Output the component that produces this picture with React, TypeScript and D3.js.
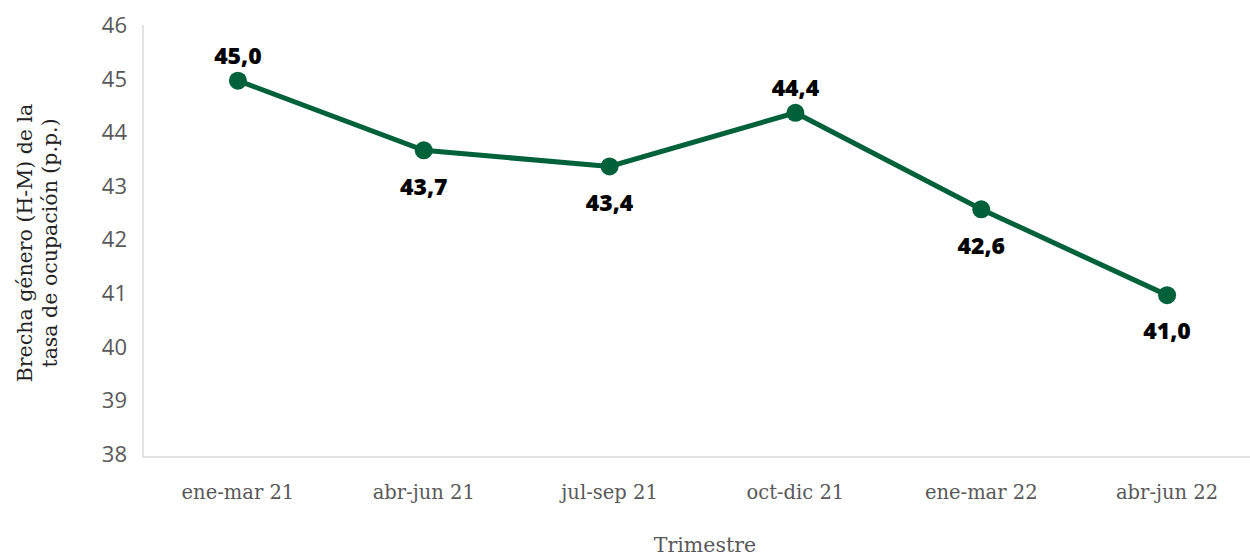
import { useEffect, useRef } from 'react';
import * as d3 from 'd3';

const categories = ['ene-mar 21', 'abr-jun 21', 'jul-sep 21', 'oct-dic 21', 'ene-mar 22', 'abr-jun 22'];
const values = [45.0, 43.7, 43.4, 44.4, 42.6, 41.0];
const labelAbove = [true, false, false, true, false, false];
const yTicks = [38, 39, 40, 41, 42, 43, 44, 45, 46];

const WIDTH = 1250;
const HEIGHT = 555;
const GREEN = '#00613a';

export default function App() {
  const svgRef = useRef<SVGSVGElement>(null);

  useEffect(() => {
    if (!svgRef.current) return;
    const svg = d3.select(svgRef.current);
    svg.selectAll('*').remove();

    // Scales
    const x = d3.scaleBand<string>()
      .domain(categories)
      .range([145, 1260]);
    const y = d3.scaleLinear()
      .domain([38, 46])
      .range([456, 27]);
    const cx = (c: string) => (x(c) as number) + x.bandwidth() / 2;

    // Axis lines
    svg.append('line')
      .attr('x1', 143).attr('x2', 143)
      .attr('y1', 25).attr('y2', 457)
      .attr('stroke', '#d9d9d9').attr('stroke-width', 1.5);
    svg.append('line')
      .attr('x1', 143).attr('x2', WIDTH)
      .attr('y1', 457).attr('y2', 457)
      .attr('stroke', '#d9d9d9').attr('stroke-width', 1.5);

    // Y tick labels
    svg.append('g')
      .selectAll('text')
      .data(yTicks)
      .join('text')
      .attr('x', 127)
      .attr('y', d => y(d))
      .attr('text-anchor', 'end')
      .attr('dominant-baseline', 'middle')
      .attr('font-family', '"Open Sans", sans-serif')
      .attr('font-size', 22)
      .attr('fill', '#595959')
      .text(d => d);

    // X tick labels
    svg.append('g')
      .selectAll('text')
      .data(categories)
      .join('text')
      .attr('x', d => cx(d))
      .attr('y', 493)
      .attr('text-anchor', 'middle')
      .attr('dominant-baseline', 'middle')
      .attr('font-family', '"DejaVu Serif", serif')
      .attr('font-size', 19.5)
      .attr('fill', '#595959')
      .text(d => d);

    // Axis titles
    svg.append('text')
      .attr('x', 705).attr('y', 546)
      .attr('text-anchor', 'middle')
      .attr('dominant-baseline', 'middle')
      .attr('font-family', '"DejaVu Serif", serif')
      .attr('font-size', 20.5)
      .attr('fill', '#595959')
      .text('Trimestre');

    const yTitle = svg.append('text')
      .attr('transform', 'translate(37,243) rotate(-90)')
      .attr('text-anchor', 'middle')
      .attr('font-family', '"DejaVu Serif", serif')
      .attr('font-size', 20.5)
      .attr('fill', '#222');
    yTitle.append('tspan').attr('x', 0).attr('y', -5).text('Brecha género (H-M) de la');
    yTitle.append('tspan').attr('x', 0).attr('y', 20).text('tasa de ocupación (p.p.)');

    // Line
    const line = d3.line<number>()
      .x((_, i) => cx(categories[i]))
      .y(d => y(d));
    svg.append('path')
      .datum(values)
      .attr('fill', 'none')
      .attr('stroke', GREEN)
      .attr('stroke-width', 5)
      .attr('d', line);

    // Markers
    svg.append('g')
      .selectAll('circle')
      .data(values)
      .join('circle')
      .attr('cx', (_, i) => cx(categories[i]))
      .attr('cy', d => y(d))
      .attr('r', 9)
      .attr('fill', GREEN);

    // Data labels
    svg.append('g')
      .selectAll('text')
      .data(values)
      .join('text')
      .attr('x', (_, i) => cx(categories[i]))
      .attr('y', (d, i) => y(d) + (labelAbove[i] ? -23 : 38))
      .attr('text-anchor', 'middle')
      .attr('dominant-baseline', 'middle')
      .attr('font-family', '"Noto Sans", sans-serif')
      .attr('font-weight', 900)
      .attr('font-size', 23)
      .attr('fill', '#000')
      .text(d => d.toFixed(1).replace('.', ','));
  }, []);

  return (
    <div style={{ position: 'absolute', left: 0, top: 0, background: '#fff' }}>
      <svg ref={svgRef} width={WIDTH} height={HEIGHT} />
    </div>
  );
}
